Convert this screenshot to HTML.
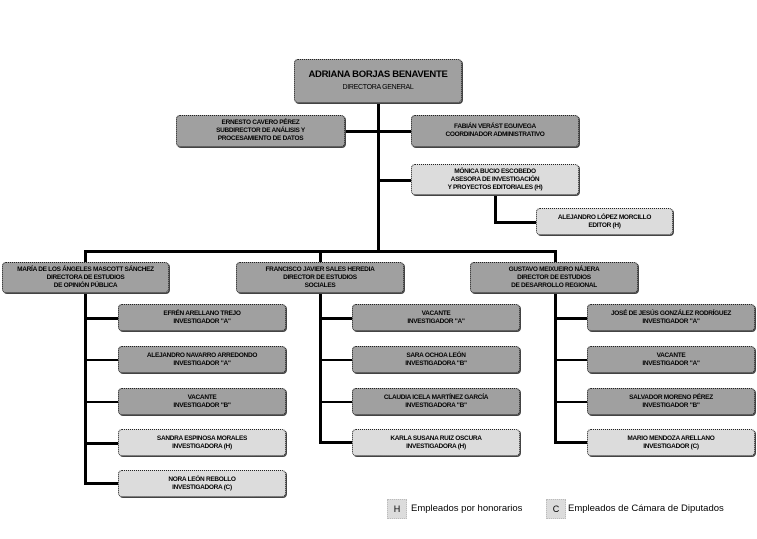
<!DOCTYPE html>
<html><head><meta charset="utf-8"><style>
body{margin:0;width:757px;height:539px;background:#fff;position:relative;overflow:hidden;font-family:"Liberation Sans",sans-serif}
.b{position:absolute;box-sizing:border-box;border:1px dotted #222;border-radius:4px;background:#a0a0a0;box-shadow:1px 1px 0 #444;display:flex;flex-direction:column;justify-content:center;align-items:center;text-align:center;font-size:6.5px;font-weight:bold;line-height:8px;letter-spacing:-0.3px;color:#000}
.l{background:#dcdcdc}
.n{font-weight:normal}
.h{position:absolute;background:#000}
.lg{position:absolute;font-size:9.5px;color:#000}
.sq{position:absolute;background:#dcdcdc;border:1px dotted #bbb;box-sizing:border-box;font-size:9px;text-align:center;line-height:18px}
</style></head><body>
<!-- lines -->
<div class="h" style="left:377px;top:103px;width:3px;height:149px"></div>
<div class="h" style="left:345px;top:130px;width:66px;height:3px"></div>
<div class="h" style="left:378px;top:179px;width:33px;height:3px"></div>
<div class="h" style="left:494px;top:195px;width:3px;height:28px"></div>
<div class="h" style="left:494px;top:221px;width:42px;height:3px"></div>
<div class="h" style="left:84px;top:250px;width:473px;height:3px"></div>
<div class="h" style="left:84px;top:250px;width:3px;height:12px"></div>
<div class="h" style="left:319px;top:250px;width:3px;height:12px"></div>
<div class="h" style="left:554px;top:250px;width:3px;height:12px"></div>
<div class="h" style="left:84px;top:293px;width:3px;height:191px"></div>
<div class="h" style="left:319px;top:293px;width:3px;height:150px"></div>
<div class="h" style="left:554px;top:293px;width:3px;height:150px"></div>
<div class="h" style="left:84px;top:317px;width:34px;height:3px"></div>
<div class="h" style="left:84px;top:359px;width:34px;height:2px"></div>
<div class="h" style="left:84px;top:401px;width:34px;height:2px"></div>
<div class="h" style="left:84px;top:442px;width:34px;height:3px"></div>
<div class="h" style="left:84px;top:482px;width:34px;height:3px"></div>
<div class="h" style="left:319px;top:317px;width:33px;height:3px"></div>
<div class="h" style="left:319px;top:359px;width:33px;height:2px"></div>
<div class="h" style="left:319px;top:401px;width:33px;height:2px"></div>
<div class="h" style="left:319px;top:441px;width:33px;height:3px"></div>
<div class="h" style="left:554px;top:317px;width:33px;height:3px"></div>
<div class="h" style="left:554px;top:359px;width:33px;height:2px"></div>
<div class="h" style="left:554px;top:401px;width:33px;height:2px"></div>
<div class="h" style="left:554px;top:441px;width:33px;height:3px"></div>
<!-- boxes -->
<div class="b" style="left:294px;top:59px;width:168px;height:44px;font-size:9.5px;line-height:13px"><div>ADRIANA BORJAS BENAVENTE</div><div class="n" style="font-size:7px">DIRECTORA GENERAL</div></div>
<div class="b" style="left:176px;top:115px;width:169px;height:32px"><div>ERNESTO CAVERO PÉREZ</div><div>SUBDIRECTOR DE ANÁLISIS Y</div><div>PROCESAMIENTO DE DATOS</div></div>
<div class="b" style="left:411px;top:115px;width:168px;height:32px"><div>FABIÁN VERÁST EGUIVEGA</div><div>COORDINADOR ADMINISTRATIVO</div></div>
<div class="b l" style="left:411px;top:164px;width:168px;height:31px"><div>MÓNICA BUCIO ESCOBEDO</div><div>ASESORA DE INVESTIGACIÓN</div><div>Y PROYECTOS EDITORIALES (H)</div></div>
<div class="b l" style="left:536px;top:208px;width:137px;height:27px"><div>ALEJANDRO LÓPEZ MORCILLO</div><div>EDITOR (H)</div></div>
<div class="b" style="left:2px;top:262px;width:167px;height:31px"><div>MARÍA DE LOS ÁNGELES MASCOTT SÁNCHEZ</div><div>DIRECTORA DE ESTUDIOS</div><div>DE OPINIÓN PÚBLICA</div></div>
<div class="b" style="left:236px;top:262px;width:168px;height:31px"><div>FRANCISCO JAVIER SALES HEREDIA</div><div>DIRECTOR DE ESTUDIOS</div><div>SOCIALES</div></div>
<div class="b" style="left:470px;top:262px;width:168px;height:31px"><div>GUSTAVO MEIXUEIRO NÁJERA</div><div>DIRECTOR DE ESTUDIOS</div><div>DE DESARROLLO REGIONAL</div></div>

<div class="b" style="left:118px;top:304px;width:168px;height:27px"><div>EFRÉN ARELLANO TREJO</div><div>INVESTIGADOR "A"</div></div>
<div class="b" style="left:118px;top:346px;width:168px;height:27px"><div>ALEJANDRO NAVARRO ARREDONDO</div><div>INVESTIGADOR "A"</div></div>
<div class="b" style="left:118px;top:388px;width:168px;height:27px"><div>VACANTE</div><div>INVESTIGADOR "B"</div></div>
<div class="b l" style="left:118px;top:429px;width:168px;height:27px"><div>SANDRA ESPINOSA MORALES</div><div>INVESTIGADORA (H)</div></div>
<div class="b l" style="left:118px;top:470px;width:168px;height:27px"><div>NORA LEÓN REBOLLO</div><div>INVESTIGADORA (C)</div></div>

<div class="b" style="left:352px;top:304px;width:168px;height:27px"><div>VACANTE</div><div>INVESTIGADOR "A"</div></div>
<div class="b" style="left:352px;top:346px;width:168px;height:27px"><div>SARA OCHOA LEÓN</div><div>INVESTIGADORA "B"</div></div>
<div class="b" style="left:352px;top:388px;width:168px;height:27px"><div>CLAUDIA ICELA MARTÍNEZ GARCÍA</div><div>INVESTIGADORA "B"</div></div>
<div class="b l" style="left:352px;top:429px;width:168px;height:27px"><div>KARLA SUSANA RUIZ OSCURA</div><div>INVESTIGADORA (H)</div></div>

<div class="b" style="left:587px;top:304px;width:168px;height:27px"><div>JOSÉ DE JESÚS GONZÁLEZ RODRÍGUEZ</div><div>INVESTIGADOR "A"</div></div>
<div class="b" style="left:587px;top:346px;width:168px;height:27px"><div>VACANTE</div><div>INVESTIGADOR "A"</div></div>
<div class="b" style="left:587px;top:388px;width:168px;height:27px"><div>SALVADOR MORENO PÉREZ</div><div>INVESTIGADOR "B"</div></div>
<div class="b l" style="left:587px;top:429px;width:168px;height:27px"><div>MARIO MENDOZA ARELLANO</div><div>INVESTIGADOR (C)</div></div>

<!-- legend -->
<div class="sq" style="left:387px;top:499px;width:20px;height:20px">H</div>
<div class="lg" style="left:411px;top:503px">Empleados por honorarios</div>
<div class="sq" style="left:546px;top:499px;width:20px;height:20px">C</div>
<div class="lg" style="left:568px;top:503px">Empleados de Cámara de Diputados</div>
</body></html>
